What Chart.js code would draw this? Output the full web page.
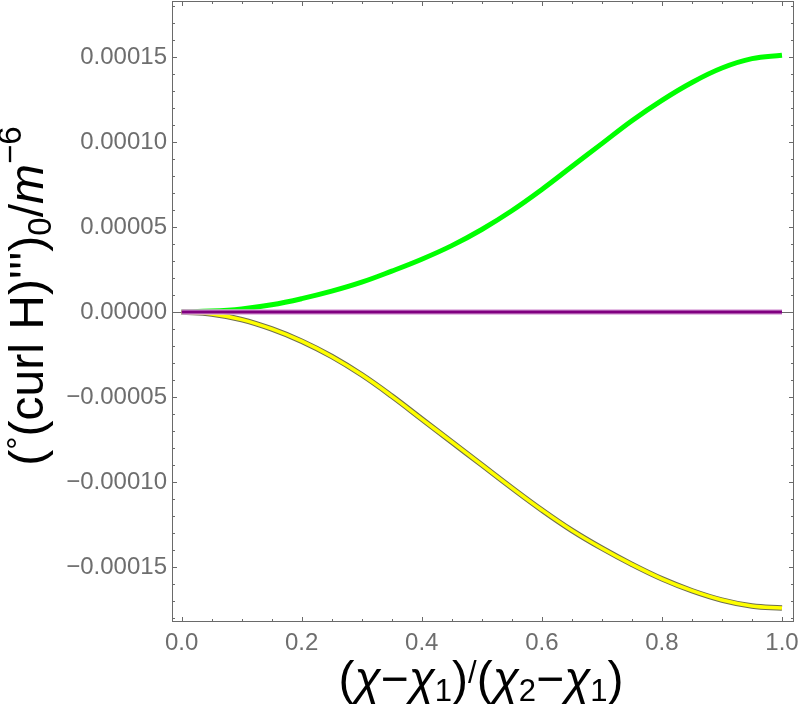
<!DOCTYPE html>
<html>
<head>
<meta charset="utf-8">
<script src="https://cdn.jsdelivr.net/npm/chart.js@4/dist/chart.umd.min.js"></script>
<style>
  html, body { margin: 0; padding: 0; background: #fff; }
  #curlChart { display: block; }
</style>
</head>
<body>
<canvas id="curlChart" width="800" height="704"></canvas>
<script>
// Values
const xValues = [0, 0.05, 0.1, 0.15, 0.2, 0.25, 0.3, 0.35, 0.4, 0.45, 0.5,
                 0.55, 0.6, 0.65, 0.7, 0.75, 0.8, 0.85, 0.9, 0.95, 1.0];
const greenValues = [0, 0.05e-5, 0.18e-5, 0.42e-5, 0.78e-5, 1.22e-5, 1.75e-5, 2.4e-5, 3.1e-5, 3.9e-5, 4.85e-5,
                     5.95e-5, 7.2e-5, 8.55e-5, 9.9e-5, 11.25e-5, 12.45e-5, 13.5e-5, 14.35e-5, 14.9e-5, 15.1e-5];
const yellowValues = [0, -0.12e-5, -0.45e-5, -1.0e-5, -1.72e-5, -2.62e-5, -3.7e-5, -4.95e-5, -6.3e-5, -7.65e-5, -9.0e-5,
                      -10.35e-5, -11.65e-5, -12.85e-5, -13.9e-5, -14.85e-5, -15.7e-5, -16.4e-5, -16.95e-5, -17.3e-5, -17.42e-5];
const purpleValues = [0, 0, 0, 0, 0, 0, 0, 0, 0, 0, 0, 0, 0, 0, 0, 0, 0, 0, 0, 0, 0];
const xTickStep = 0.2;
const yTickStep = 0.00005;

const toPoints = (ys) => xValues.map((x, i) => ({x: x, y: ys[i]}));
const FONT = '"Liberation Sans", Arial, "DejaVu Sans", sans-serif';
const AXIS_GRAY = '#6a6a6a';

// draws a run of text pieces (size, baseline shift, italic) centred on cx
function drawRuns(ctx, runs, cx, baseY) {
    let total = 0;
    for (const r of runs) {
        ctx.font = (r.italic ? 'italic ' : '') + r.size + 'px ' + FONT;
        r.w = ctx.measureText(r.t).width + (r.gap || 0);
        total += r.w;
    }
    let x = cx - total / 2;
    ctx.textBaseline = 'alphabetic';
    ctx.textAlign = 'left';
    for (const r of runs) {
        ctx.font = (r.italic ? 'italic ' : '') + r.size + 'px ' + FONT;
        ctx.fillText(r.t, x, baseY + (r.dy || 0));
        x += r.w;
    }
}

const framePlugin = {
    id: 'framePlugin',
    beforeDatasetsDraw(chart) {
        const {ctx, chartArea, scales} = chart;
        const y0 = Math.round(scales.y.getPixelForValue(0)) + 0.5;
        ctx.save();
        ctx.strokeStyle = AXIS_GRAY;
        ctx.lineWidth = 1;
        ctx.beginPath();
        ctx.moveTo(chartArea.left, y0);
        ctx.lineTo(chartArea.right, y0);
        ctx.stroke();
        ctx.restore();
    },
    afterDraw(chart) {
        const {ctx, chartArea, scales} = chart;
        const {left, right, top, bottom} = chartArea;
        ctx.save();
        ctx.strokeStyle = AXIS_GRAY;
        ctx.lineWidth = 1;
        ctx.strokeRect(left + 0.5, top + 0.5, right - left - 1, bottom - top - 1);

        // inward ticks on all four sides
        ctx.beginPath();
        for (let i = 0; i <= 20; i++) {
            const v = i * 0.05;
            const px = Math.round(scales.x.getPixelForValue(v)) + 0.5;
            const len = (i % 4 === 0) ? 5 : 3;
            ctx.moveTo(px, bottom); ctx.lineTo(px, bottom - len);
            ctx.moveTo(px, top); ctx.lineTo(px, top + len);
        }
        for (let i = -18; i <= 18; i++) {
            const v = i * 0.00001;
            const py = Math.round(scales.y.getPixelForValue(v)) + 0.5;
            if (py < top || py > bottom) continue;
            const len = (i % 5 === 0) ? 5 : 3;
            ctx.moveTo(left, py); ctx.lineTo(left + len, py);
            ctx.moveTo(right, py); ctx.lineTo(right - len, py);
        }
        ctx.stroke();

        // axis titles
        ctx.fillStyle = '#000';
        drawRuns(ctx, [
            {t: '(', size: 48},
            {t: 'χ', size: 48, italic: true},
            {t: '−', size: 48},
            {t: 'χ', size: 48, italic: true},
            {t: '1', size: 31, dy: 6},
            {t: ')', size: 48},
            {t: '/', size: 31, dy: -12},
            {t: '(', size: 48},
            {t: 'χ', size: 48, italic: true},
            {t: '2', size: 31, dy: 6},
            {t: '−', size: 48},
            {t: 'χ', size: 48, italic: true},
            {t: '1', size: 31, dy: 6},
            {t: ')', size: 48}
        ], 481, 695);

        ctx.translate(43, 296);
        ctx.rotate(-Math.PI / 2);
        drawRuns(ctx, [
            {t: '(', size: 48},
            {t: '°', size: 33, dy: -13},
            {t: '(curl H)', size: 48},
            {t: "'''", size: 48},
            {t: ')', size: 48},
            {t: '0', size: 33, dy: 8},
            {t: '/', size: 48},
            {t: 'm', size: 48, italic: true},
            {t: '−6', size: 33, dy: -22}
        ], 0, 0);
        ctx.restore();
    }
};

new Chart(document.getElementById('curlChart').getContext('2d'), {
    type: 'line',
    data: {
        datasets: [
            {
                data: toPoints(purpleValues),
                borderColor: '#800080',
                borderWidth: 3,
                pointRadius: 0,
                borderCapStyle: 'butt'
            },
            {
                data: toPoints(purpleValues),
                borderColor: '#dcaadc',
                borderWidth: 5.5,
                pointRadius: 0,
                borderCapStyle: 'butt'
            },
            {
                data: toPoints(yellowValues),
                borderColor: '#ffff00',
                borderWidth: 3.5,
                pointRadius: 0,
                tension: 0.4,
                borderCapStyle: 'butt'
            },
            {
                data: toPoints(yellowValues),
                borderColor: '#6e6e50',
                borderWidth: 5.5,
                pointRadius: 0,
                tension: 0.4,
                borderCapStyle: 'butt'
            },
            {
                data: toPoints(greenValues),
                borderColor: '#00ff00',
                borderWidth: 5,
                pointRadius: 0,
                tension: 0.4,
                borderCapStyle: 'butt'
            }
        ]
    },
    options: {
        responsive: false,
        animation: false,
        layout: { padding: {top: 1, right: 6, left: 0, bottom: 0} },
        plugins: { legend: {display: false}, tooltip: {enabled: false} },
        scales: {
            x: {
                type: 'linear',
                min: -0.016,
                max: 1.02,
                border: {display: false},
                grid: {display: false, drawTicks: false},
                ticks: {
                    stepSize: xTickStep,
                    includeBounds: false,
                    padding: 7,
                    color: '#6e6e6e',
                    font: {size: 24, family: FONT},
                    maxRotation: 0,
                    callback: (v) => v.toFixed(1)
                },
                afterFit: (scale) => {
                    scale.height = 82;
                    scale.paddingLeft = 0;
                    scale.paddingRight = 0;
                }
            },
            y: {
                type: 'linear',
                min: -0.0001824,
                max: 0.0001829,
                border: {display: false},
                grid: {display: false, drawTicks: false},
                ticks: {
                    stepSize: yTickStep,
                    includeBounds: false,
                    padding: 5,
                    color: '#6e6e6e',
                    font: {size: 24, family: FONT},
                    callback: (v) => (v < -1e-12 ? '−' : '') + Math.abs(v).toFixed(5)
                },
                afterFit: (scale) => {
                    scale.width = 172;
                    scale.paddingTop = 0;
                    scale.paddingBottom = 0;
                }
            }
        }
    },
    plugins: [framePlugin]
});
</script>
</body>
</html>
